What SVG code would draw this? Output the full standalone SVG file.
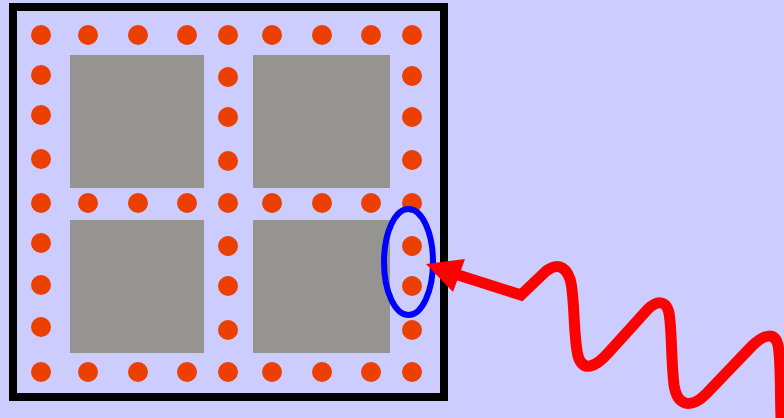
<svg xmlns="http://www.w3.org/2000/svg" width="784" height="418" viewBox="0 0 784 418">
<defs>
<style>
.pin{fill:#ec4000}
.pad{fill:#959490}
</style>
</defs>
<rect x="0" y="0" width="784" height="418" fill="#ccccff"/>
<g id="chip">
<rect x="13" y="7" width="431" height="390" fill="#ccccff" stroke="#000" stroke-width="8"/>
</g>
<g id="blocks">
<rect class="pad" x="70" y="55" width="134" height="133"/>
<rect class="pad" x="253" y="55" width="137" height="133"/>
<rect class="pad" x="70" y="220" width="134" height="133"/>
<rect class="pad" x="253" y="220" width="137" height="133"/>
</g>
<g id="pins">
<circle class="pin" cx="41" cy="35" r="10"/>
<circle class="pin" cx="88" cy="35" r="10"/>
<circle class="pin" cx="138" cy="35" r="10"/>
<circle class="pin" cx="187" cy="35" r="10"/>
<circle class="pin" cx="228" cy="35" r="10"/>
<circle class="pin" cx="272" cy="35" r="10"/>
<circle class="pin" cx="322" cy="35" r="10"/>
<circle class="pin" cx="371" cy="35" r="10"/>
<circle class="pin" cx="412" cy="35" r="10"/>
<circle class="pin" cx="41" cy="75" r="10"/>
<circle class="pin" cx="41" cy="115" r="10"/>
<circle class="pin" cx="41" cy="159" r="10"/>
<circle class="pin" cx="228" cy="77" r="10"/>
<circle class="pin" cx="228" cy="117" r="10"/>
<circle class="pin" cx="228" cy="161" r="10"/>
<circle class="pin" cx="412" cy="76" r="10"/>
<circle class="pin" cx="412" cy="117" r="10"/>
<circle class="pin" cx="412" cy="160" r="10"/>
<circle class="pin" cx="41" cy="203" r="10"/>
<circle class="pin" cx="88" cy="203" r="10"/>
<circle class="pin" cx="138" cy="203" r="10"/>
<circle class="pin" cx="187" cy="203" r="10"/>
<circle class="pin" cx="228" cy="203" r="10"/>
<circle class="pin" cx="272" cy="203" r="10"/>
<circle class="pin" cx="322" cy="203" r="10"/>
<circle class="pin" cx="371" cy="203" r="10"/>
<circle class="pin" cx="412" cy="203" r="10"/>
<circle class="pin" cx="41" cy="243" r="10"/>
<circle class="pin" cx="41" cy="285" r="10"/>
<circle class="pin" cx="41" cy="327" r="10"/>
<circle class="pin" cx="228" cy="246" r="10"/>
<circle class="pin" cx="228" cy="286" r="10"/>
<circle class="pin" cx="228" cy="330" r="10"/>
<circle class="pin" cx="412" cy="246" r="10"/>
<circle class="pin" cx="412" cy="286" r="10"/>
<circle class="pin" cx="412" cy="330" r="10"/>
<circle class="pin" cx="41" cy="372" r="10"/>
<circle class="pin" cx="88" cy="372" r="10"/>
<circle class="pin" cx="138" cy="372" r="10"/>
<circle class="pin" cx="187" cy="372" r="10"/>
<circle class="pin" cx="228" cy="372" r="10"/>
<circle class="pin" cx="272" cy="372" r="10"/>
<circle class="pin" cx="322" cy="372" r="10"/>
<circle class="pin" cx="371" cy="372" r="10"/>
<circle class="pin" cx="412" cy="372" r="10"/>
</g>
<g id="highlight">
<ellipse cx="408.5" cy="262" rx="24.5" ry="53" fill="none" stroke="#0000ff" stroke-width="6"/>
</g>
<g id="connectors">
<path d="M 781,418 C 780,390 781,360 778,345 C 775,333 765,333 752,346 L 706,394 C 690,410 677,405 674,385 C 671,360 672,330 669,313 C 666,300 657,300 647,310 L 609,352 C 595,368 583,372 578,356 C 573,335 575,295 570,279 C 565,265 556,263 545,272 L 521,295 L 455,274" fill="none" stroke="#ff0000" stroke-width="11" stroke-linejoin="miter"/>
<polygon points="426,264 465,259 453,292" fill="#ff0000"/>
</g>
</svg>
